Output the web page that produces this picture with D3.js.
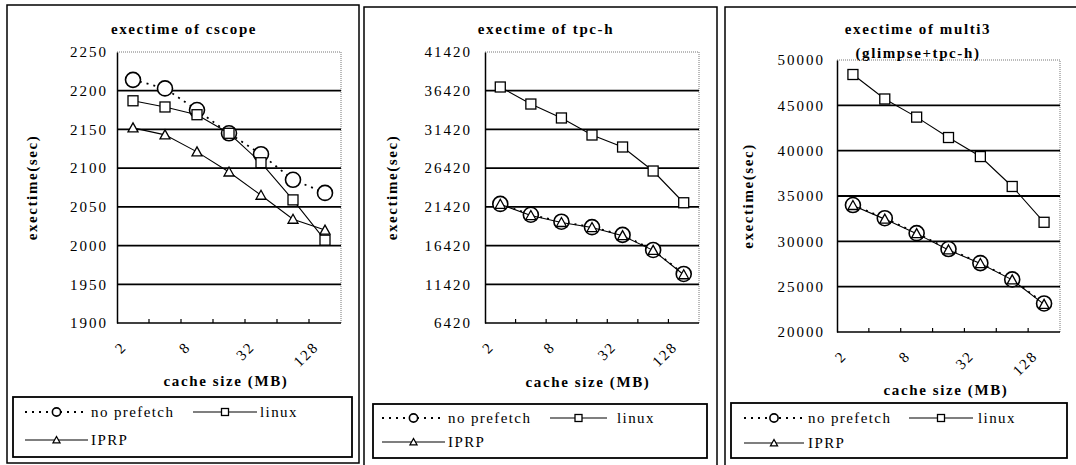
<!DOCTYPE html>
<html lang="en">
<head>
<meta charset="UTF-8">
<title>exectime</title>
<style>
    body { margin: 0; background: #fff; }
    svg text { font-family: "Liberation Serif", "DejaVu Serif", "Times New Roman", serif; fill: #000; }
    .tk { font-size: 15px; letter-spacing: 2px; }
    .ttl { font-size: 15px; font-weight: bold; letter-spacing: 1.6px; }
    .leg { font-size: 15px; letter-spacing: 1.4px; }
</style>
</head>
<body>
<svg id="chart" width="1076" height="465"></svg>
<script src="https://cdn.jsdelivr.net/npm/d3@7"></script>
<script>
var cacheSizes = ["2", "4", "8", "16", "32", "64", "128"];
var shownLabels = ["2", "8", "32", "128"];
var seriesNames = ["no prefetch", "linux", "IPRP"];

var cscopeTicks = [1900, 1950, 2000, 2050, 2100, 2150, 2200, 2250];
var cscopeNoPrefetch = [2214, 2203, 2175, 2145, 2118, 2085, 2068];
var cscopeLinux = [2187, 2179, 2169, 2145, 2107, 2059, 2007];
var cscopeIprp = [2152, 2143, 2121, 2095, 2065, 2034, 2020];

var tpchTicks = [6420, 11420, 16420, 21420, 26420, 31420, 36420, 41420];
var tpchNoPrefetch = [21800, 20400, 19500, 18800, 17800, 15850, 12750];
var tpchLinux = [36900, 34700, 32900, 30700, 29150, 26050, 21950];
var tpchIprp = [21750, 20300, 19400, 18750, 17700, 15800, 12650];

var multi3Ticks = [20000, 25000, 30000, 35000, 40000, 45000, 50000];
var multi3NoPrefetch = [34000, 32550, 30900, 29150, 27600, 25800, 23150];
var multi3Linux = [48400, 45700, 43700, 41450, 39350, 36050, 32100];
var multi3Iprp = [33950, 32450, 30850, 29050, 27550, 25750, 23050];

// layout of each panel (pixels)
var panels = [
    {title: ["exectime of cscope"], ticks: cscopeTicks,
     series: [cscopeNoPrefetch, cscopeLinux, cscopeIprp],
     frame: [7, 5, 359, 463], plot: [117, 52, 341, 323],
     titleX: 184, titleY: [34], yLabX: 106, yTitleX: 32,
     xTitleX: 226, xTitleY: 386,
     legend: [13, 397, 352, 457], rows: [412, 440],
     col1: [25, 88, 91], col2: [193, 257, 260]},
    {title: ["exectime of tpc-h"], ticks: tpchTicks,
     series: [tpchNoPrefetch, tpchLinux, tpchIprp],
     frame: [364, 7, 717, 470], plot: [485, 52, 699, 323],
     titleX: 546, titleY: [34], yLabX: 470, yTitleX: 392,
     xTitleX: 588, xTitleY: 387,
     legend: [373, 404, 707, 458], rows: [418, 442],
     col1: [382, 445, 448], col2: [550, 607, 617]},
    {title: ["exectime of multi3", "(glimpse+tpc-h)"], ticks: multi3Ticks,
     series: [multi3NoPrefetch, multi3Linux, multi3Iprp],
     frame: [725, 7, 1085, 470], plot: [837, 60, 1060, 332],
     titleX: 918, titleY: [34, 58], yLabX: 823, yTitleX: 748,
     xTitleX: 946, xTitleY: 395,
     legend: [731, 403, 1067, 458], rows: [418, 443],
     col1: [744, 804, 808], col2: [909, 973, 978]}
];

var markerTypes = ["circle", "square", "triangle"];
var serif = "'Liberation Serif', 'DejaVu Serif', serif";
var svg = d3.select("#chart");

function marker(g, type, x, y, s) {
    if (type === "circle") {
        g.append("circle").attr("cx", x).attr("cy", y).attr("r", 7.5 * s)
            .attr("fill", "#fff").attr("stroke", "#000").attr("stroke-width", 1.6);
    } else if (type === "square") {
        var h = 5 * s;
        g.append("rect").attr("x", x - h).attr("y", y - h).attr("width", 2 * h).attr("height", 2 * h)
            .attr("fill", "#fff").attr("stroke", "#000").attr("stroke-width", 1.3);
    } else {
        var a = 5 * s;
        g.append("path").attr("d", "M" + x + "," + (y - a) + "L" + (x + a) + "," + (y + a * 0.8) + "L" + (x - a) + "," + (y + a * 0.8) + "Z")
            .attr("fill", "#fff").attr("stroke", "#000").attr("stroke-width", 1.3);
    }
}

panels.forEach(function (p) {
    var g = svg.append("g");
    var L = p.plot[0], T = p.plot[1], R = p.plot[2], B = p.plot[3];

    g.append("rect")
        .attr("x", p.frame[0]).attr("y", p.frame[1])
        .attr("width", p.frame[2] - p.frame[0]).attr("height", p.frame[3] - p.frame[1])
        .attr("fill", "none").attr("stroke", "#000").attr("stroke-width", 1.5);

    var x = d3.scaleBand().domain(cacheSizes).range([L, R]);
    var y = d3.scaleLinear()
        .domain([p.ticks[0], p.ticks[p.ticks.length - 1]])
        .range([B, T]);

    // plot border (dotted top/right)
    g.append("path")
        .attr("d", "M" + L + "," + T + "H" + R + "V" + B)
        .attr("fill", "none").attr("stroke", "#777").attr("stroke-width", 1)
        .attr("stroke-dasharray", "1,1");

    // gridlines
    g.selectAll(".grid")
        .data(p.ticks.slice(1, -1))
        .enter().append("line")
        .attr("x1", L).attr("x2", R)
        .attr("y1", function (d) { return y(d); })
        .attr("y2", function (d) { return y(d); })
        .attr("stroke", "#000").attr("stroke-width", 1.8);

    // y axis
    var yAxis = g.append("g")
        .attr("transform", "translate(" + L + ",0)")
        .call(d3.axisLeft(y).tickValues(p.ticks).tickFormat(d3.format("d"))
            .tickSize(0).tickPadding(L - p.yLabX - 2));
    yAxis.select(".domain").attr("stroke", "#000").attr("stroke-width", 1.5);
    yAxis.selectAll("text").attr("class", "tk")
        .attr("font-family", serif).attr("font-size", 15);

    // x axis: ticks between categories, rotated labels
    g.append("line").attr("x1", L).attr("x2", R).attr("y1", B).attr("y2", B)
        .attr("stroke", "#000").attr("stroke-width", 1.5);
    g.selectAll(".xtick")
        .data(cacheSizes.slice(1))
        .enter().append("line")
        .attr("x1", function (d) { return x(d); })
        .attr("x2", function (d) { return x(d); })
        .attr("y1", B).attr("y2", B - 4)
        .attr("stroke", "#000").attr("stroke-width", 1.2);
    g.selectAll(".xlab")
        .data(shownLabels)
        .enter().append("text")
        .attr("class", "tk")
        .attr("font-family", serif)
        .attr("text-anchor", "end")
        .attr("dy", "0.35em")
        .attr("transform", function (d) {
            var cx = x(d) + x.bandwidth() / 2 - 9;
            return "translate(" + cx + "," + (B + 21) + ") rotate(-45)";
        })
        .text(function (d) { return d; });

    // series
    var line = d3.line()
        .x(function (d, i) { return x(cacheSizes[i]) + x.bandwidth() / 2; })
        .y(function (d) { return y(d); });

    p.series.forEach(function (vals, k) {
        g.append("path")
            .datum(vals)
            .attr("d", line)
            .attr("fill", "none").attr("stroke", "#000")
            .attr("stroke-width", k === 0 ? 1.8 : 1.1)
            .attr("stroke-dasharray", k === 0 ? "2,5" : null);
        vals.forEach(function (v, i) {
            marker(g, markerTypes[k], x(cacheSizes[i]) + x.bandwidth() / 2, y(v), 1);
        });
    });

    // titles
    p.title.forEach(function (t, i) {
        g.append("text").attr("class", "ttl").attr("font-family", serif)
            .attr("x", p.titleX).attr("y", p.titleY[i])
            .attr("text-anchor", "middle").text(t);
    });
    g.append("text").attr("class", "ttl").attr("font-family", serif)
        .attr("transform", "translate(" + p.yTitleX + "," + ((T + B) / 2) + ") rotate(-90)")
        .attr("text-anchor", "middle").attr("dy", "0.35em")
        .text("exectime(sec)");
    g.append("text").attr("class", "ttl").attr("font-family", serif)
        .attr("x", p.xTitleX).attr("y", p.xTitleY)
        .attr("text-anchor", "middle").text("cache size (MB)");

    // legend
    var lg = p.legend;
    g.append("rect")
        .attr("x", lg[0]).attr("y", lg[1])
        .attr("width", lg[2] - lg[0]).attr("height", lg[3] - lg[1])
        .attr("fill", "#fff").attr("stroke", "#000").attr("stroke-width", 1.8);
    var slots = [[p.col1, p.rows[0]], [p.col2, p.rows[0]], [p.col1, p.rows[1]]];
    seriesNames.forEach(function (name, k) {
        var c = slots[k][0], ry = slots[k][1];
        g.append("line").attr("x1", c[0]).attr("x2", c[1]).attr("y1", ry).attr("y2", ry)
            .attr("stroke", "#000").attr("stroke-width", k === 0 ? 1.8 : 1.1)
            .attr("stroke-dasharray", k === 0 ? "2,5" : null);
        marker(g, markerTypes[k], (c[0] + c[1]) / 2, ry, k === 0 ? 0.55 : 0.7);
        g.append("text").attr("class", "leg").attr("font-family", serif)
            .attr("x", c[2]).attr("y", ry).attr("dy", "0.35em")
            .text(name);
    });
});
</script>
</body>
</html>
